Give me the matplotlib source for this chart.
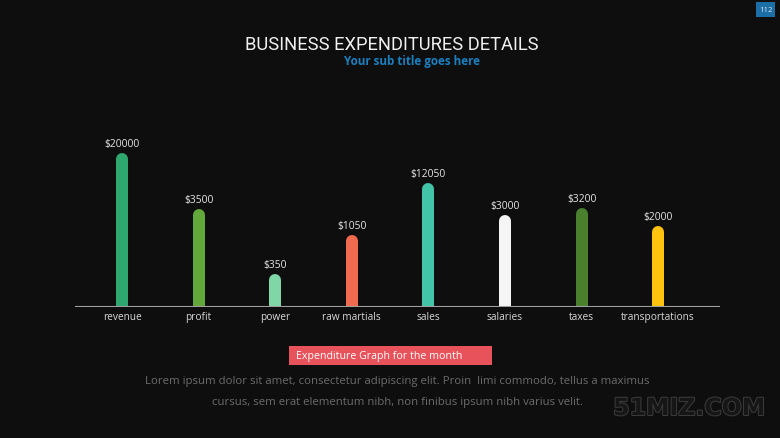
import matplotlib
matplotlib.use("Agg")
import matplotlib.pyplot as plt
import matplotlib.patheffects as pe
from matplotlib.patches import Rectangle

categories = ["revenue", "profit", "power", "raw martials", "sales", "salaries", "taxes", "transportations"]
value_labels = ["$20000", "$3500", "$350", "$1050", "$12050", "$3000", "$3200", "$2000"]
bar_heights = [154, 98, 33, 72, 124, 92, 99.5, 81]
colors = ["#2fa870", "#63a83a", "#7fd6a6", "#f06a50", "#42c4a8", "#f5f5f5", "#4a7f2e", "#ffc20e"]

W, H = 780, 439
BG = "#0e0e0e"
fig = plt.figure(figsize=(W / 100, H / 100), dpi=100, facecolor=BG)

ax_l, ax_r, ax_b, ax_t = 75, 720, 308, 130
ax = fig.add_axes([ax_l / W, 1 - ax_b / H, (ax_r - ax_l) / W, (ax_b - ax_t) / H])
ax.set_facecolor("none")
x0, dx = 122, 76.6
ax.set_xlim((ax_l - x0) / dx, (ax_r - x0) / dx)
ax.set_ylim(0, ax_b - ax_t)
for s in ax.spines.values():
    s.set_visible(False)
ax.set_yticks([])
ax.set_xticks(range(len(categories)))
ax.set_xticklabels(categories, fontsize=7.3, color="#d8d8d8", family="Open Sans")
ax.tick_params(axis="x", length=0, pad=3.2)

bar_px = 12
lw = bar_px * 0.72
for i, (h, c, lab) in enumerate(zip(bar_heights, colors, value_labels)):
    ax.plot([i, i], [0, h - bar_px / 2], color=c, lw=lw, solid_capstyle="round", clip_on=True)
    ax.text(i, h + 3.5, lab, ha="center", va="bottom", fontsize=7.4, color="#e6e6e6", family="Open Sans")
ax.axhline(0, color="#a0a0a0", lw=1.5)

# Title
fig.text(392 / W, 1 - 45.5 / H, "BUSINESS EXPENDITURES DETAILS", ha="center", va="center",
         fontsize=13.2, color="#f0f0f0", family="Roboto")
fig.text(412 / W, 1 - 62 / H, "Your sub title goes here", ha="center", va="center",
         fontsize=8.4, color="#1b7fc0", family="Open Sans", fontweight="bold")

# slide number
fig.patches.append(Rectangle((756 / W, 1 - 18 / H), 19 / W, 15 / H, transform=fig.transFigure,
                             facecolor="#1c6ea6", edgecolor="none"))
fig.text(765.5 / W, 1 - 10.5 / H, "112", ha="center", va="center", fontsize=5.5, color="#e0e8f0",
         family="Open Sans")

# red label box
fig.patches.append(Rectangle((289 / W, 1 - 366 / H), 203 / W, 19 / H, transform=fig.transFigure,
                             facecolor="#e8525a", edgecolor="none"))
fig.text(296 / W, 1 - 356.5 / H, "Expenditure Graph for the month", ha="left", va="center",
         fontsize=7.7, color="#ffffff", family="Open Sans")

fig.text(397 / W, 1 - 381.5 / H,
         "Lorem ipsum dolor sit amet, consectetur adipiscing elit. Proin  limi commodo, tellus a maximus",
         ha="center", va="center", fontsize=8.2, color="#6c6c6c", family="Open Sans")
fig.text(397 / W, 1 - 402.5 / H,
         "cursus, sem erat elementum nibh, non finibus ipsum nibh varius velit.",
         ha="center", va="center", fontsize=8.2, color="#6c6c6c", family="Open Sans")

# watermark
fig.text(689 / W, 1 - 409 / H, "51MIZ.COM", ha="center", va="center", fontsize=17,
         fontweight="bold", color="#161616", family="DejaVu Sans",
         path_effects=[pe.withStroke(linewidth=1.5, foreground="#3a3a3a")])

fig.savefig("out.png", dpi=100, facecolor=BG)
